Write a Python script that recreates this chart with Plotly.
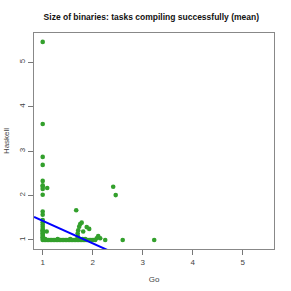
import plotly.graph_objects as go

# Scattered points (Go vs Haskell binary-size ratios)
go_x = [1.00, 1.00, 1.00, 1.00, 1.00, 1.00, 1.00, 1.00, 1.00, 1.09, 1.00, 1.00, 1.00, 1.00, 1.08,
        1.67, 2.41, 2.46, 1.75, 1.78, 1.73, 1.71, 1.70, 1.70, 1.81, 1.88, 1.93,
        2.11, 2.15, 2.08, 2.25, 2.60, 3.23, 1.99,
        # vertical band at Go = 1
        1.00, 1.00, 1.00, 1.00, 1.00, 1.00, 1.00, 1.00, 1.00, 1.00, 1.00, 1.00, 1.01, 1.02,
        # horizontal band at Haskell = 1
        1.03, 1.06, 1.09, 1.12, 1.15, 1.18, 1.21, 1.24, 1.27, 1.30, 1.33, 1.36, 1.39, 1.42,
        1.45, 1.48, 1.51, 1.54, 1.57, 1.60, 1.63, 1.66, 1.69, 1.72, 1.75, 1.78, 1.81, 1.84,
        1.87, 1.90, 1.93, 1.96, 2.02, 2.05, 1.05, 1.30, 1.55, 1.80, 1.70, 1.72, 1.85]
haskell_y = [5.46, 3.61, 2.87, 2.69, 2.33, 2.23, 2.20, 2.15, 2.02, 2.17, 1.64, 1.57, 1.30, 1.20, 1.19,
             1.67, 2.20, 2.01, 1.36, 1.39, 1.30, 1.22, 1.15, 1.09, 1.19, 1.29, 1.25,
             1.09, 1.04, 1.04, 1.00, 1.00, 1.00, 1.00,
             1.00, 1.03, 1.06, 1.09, 1.12, 1.15, 1.18, 1.22, 1.25, 1.35, 1.40, 1.45, 1.05, 1.02,
             1.00, 1.00, 1.00, 1.00, 1.00, 1.00, 1.00, 1.00, 1.00, 1.00, 1.00, 1.00, 1.00, 1.00,
             1.00, 1.00, 1.00, 1.00, 1.00, 1.00, 1.00, 1.00, 1.00, 1.00, 1.00, 1.00, 1.00, 1.00,
             1.00, 1.00, 1.00, 1.00, 1.00, 1.00, 1.02, 1.02, 1.02, 1.02, 1.05, 1.03, 1.02]

# Fitted line coefficients
fit_intercept = 1.936
fit_slope = -0.506

x_range = [0.826, 5.626]
y_range = [0.797, 5.66]
tick_vals = [1, 2, 3, 4, 5]
tick_text = ["1", "2", "3", "4", "5"]

fig = go.Figure()
fig.add_trace(go.Scatter(
    x=go_x, y=haskell_y, mode="markers",
    marker=dict(color="#33a02c", size=4.6, line=dict(width=0)),
    showlegend=False, hoverinfo="skip"))

line_x = [x_range[0], x_range[1]]
line_y = [fit_intercept + fit_slope * v for v in line_x]
fig.add_trace(go.Scatter(
    x=line_x, y=line_y, mode="lines",
    line=dict(color="#0000ff", width=2),
    showlegend=False, hoverinfo="skip", cliponaxis=True))

axis_common = dict(
    tickvals=tick_vals, ticktext=tick_text, showgrid=False, zeroline=False,
    showline=True, mirror=True, linecolor="#888888", linewidth=1,
    ticks="outside", ticklen=5, tickcolor="#777777", tickwidth=1,
    tickfont=dict(family="Liberation Sans, Arial", size=8, color="#444444"),
    automargin=False,
)

fig.update_layout(
    width=291, height=291,
    margin=dict(l=34, r=17, t=33, b=42),
    paper_bgcolor="white", plot_bgcolor="white",
    title=dict(text="<b>Size of binaries: tasks compiling successfully (mean)</b>",
               x=0.52, xanchor="center", y=0.943, yanchor="middle",
               font=dict(family="Liberation Sans, Arial", size=8.5, color="#111111")),
    xaxis=dict(range=x_range,
               title=dict(text="Go", standoff=10,
                          font=dict(family="Liberation Sans, Arial", size=8, color="#444444")),
               **axis_common),
    yaxis=dict(range=y_range, tickangle=-90,
               title=dict(text="Haskell", standoff=6,
                          font=dict(family="Liberation Sans, Arial", size=8, color="#444444")),
               **axis_common),
)

fig.write_html("out.html", config={"displayModeBar": False},
               post_script="document.body.style.margin='0';document.body.style.overflow='hidden';")
